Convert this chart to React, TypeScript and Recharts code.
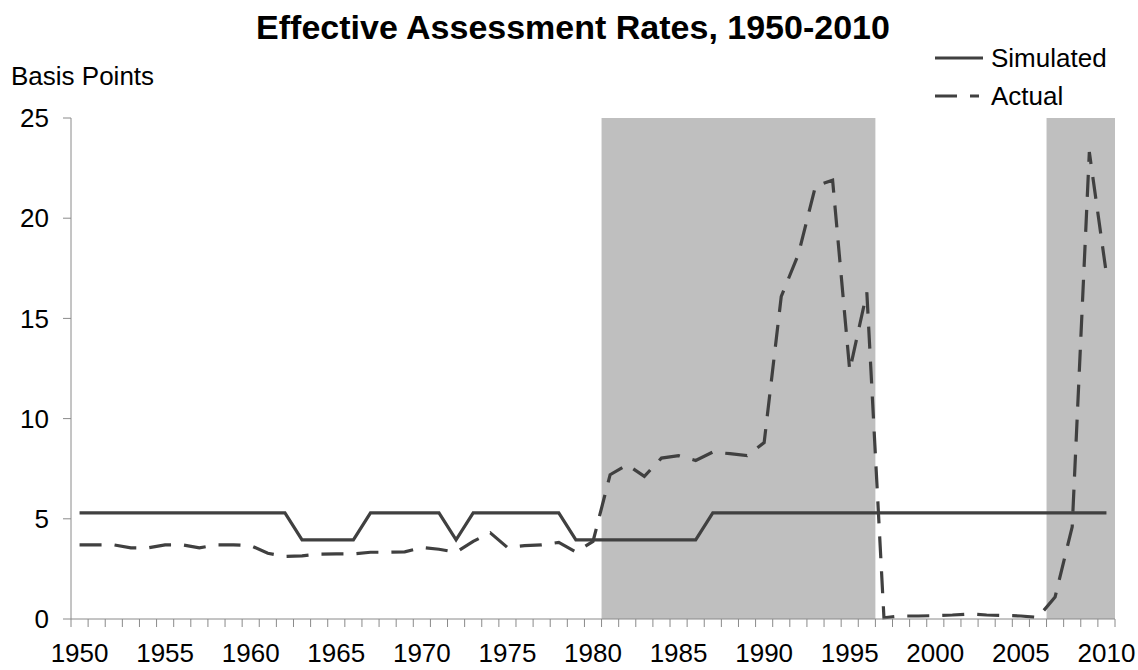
import React from 'react';
import { LineChart, Line, XAxis, YAxis, ReferenceArea, Legend } from 'recharts';

const years = [
  1950, 1951, 1952, 1953, 1954, 1955, 1956, 1957, 1958, 1959,
  1960, 1961, 1962, 1963, 1964, 1965, 1966, 1967, 1968, 1969,
  1970, 1971, 1972, 1973, 1974, 1975, 1976, 1977, 1978, 1979,
  1980, 1981, 1982, 1983, 1984, 1985, 1986, 1987, 1988, 1989,
  1990, 1991, 1992, 1993, 1994, 1995, 1996, 1997, 1998, 1999,
  2000, 2001, 2002, 2003, 2004, 2005, 2006, 2007, 2008, 2009,
  2010,
];

const simulated = [
  5.3, 5.3, 5.3, 5.3, 5.3, 5.3, 5.3, 5.3, 5.3, 5.3,
  5.3, 5.3, 5.3, 3.95, 3.95, 3.95, 3.95, 5.3, 5.3, 5.3,
  5.3, 5.3, 3.95, 5.3, 5.3, 5.3, 5.3, 5.3, 5.3, 3.95,
  3.95, 3.95, 3.95, 3.95, 3.95, 3.95, 3.95, 5.3, 5.3, 5.3,
  5.3, 5.3, 5.3, 5.3, 5.3, 5.3, 5.3, 5.3, 5.3, 5.3,
  5.3, 5.3, 5.3, 5.3, 5.3, 5.3, 5.3, 5.3, 5.3, 5.3,
  5.3,
];

const actual = [
  3.7, 3.7, 3.7, 3.55, 3.55, 3.7, 3.7, 3.55, 3.7, 3.7,
  3.66, 3.28, 3.12, 3.15, 3.24, 3.25, 3.25, 3.33, 3.33, 3.35,
  3.57, 3.48, 3.33, 3.87, 4.3, 3.57, 3.66, 3.7, 3.82, 3.34,
  3.87, 7.2, 7.7, 7.12, 8.03, 8.15, 7.91, 8.33, 8.25, 8.15,
  8.8, 16.1, 18.2, 21.6, 21.9, 12.4, 16.3, 0.06, 0.15, 0.15,
  0.17, 0.2, 0.25, 0.2, 0.18, 0.15, 0.08, 1.1, 4.6, 23.3,
  17.2,
];

const yTicks = [0, 5, 10, 15, 20, 25];
const yearLabels = [1950, 1955, 1960, 1965, 1970, 1975, 1980, 1985, 1990, 1995, 2000, 2005, 2010];

// shaded periods (first and last year fully covered)
const shadedStart = [1981, 2007];
const shadedEnd = [1996, 2010];

const seriesNames = ['Simulated', 'Actual'];
const seriesKeys = ['simulated', 'actual'];
const seriesDash = ['', '22 13'];

const LINE_COLOR = '#404040';
const AXIS_COLOR = '#8a8a8a';
const SHADE_COLOR = '#bfbfbf';
const FONT = '"Liberation Sans", Arial, Helvetica, sans-serif';

const data = years.map((y, i) => ({ year: y, simulated: simulated[i], actual: actual[i] }));
const boundaries = [...years.map((y) => y - 0.5), years[years.length - 1] + 0.5];

const XTick = (props: any) => {
  const { x, y, payload, width } = props;
  const year = payload.value + 0.5;
  if (!yearLabels.includes(year)) return <g />;
  const w = typeof width === 'number' && width > 0 ? width : 1044;
  const half = w / years.length / 2;
  return (
    <text x={x + half} y={y} dy="0.71em" textAnchor="middle" fill="#000" fontSize={26} fontFamily={FONT}>
      {year}
    </text>
  );
};

const renderLegend = () => (
  <div style={{ fontFamily: FONT, fontSize: 26, color: '#000' }}>
    {seriesNames.map((name, i) => (
      <div key={name} style={{ display: 'flex', alignItems: 'center', height: 38 }}>
        <svg width={48} height={38} style={{ display: 'block' }}>
          <line
            x1={0}
            y1={19}
            x2={i === 0 ? 48 : 44}
            y2={19}
            stroke={LINE_COLOR}
            strokeWidth={3}
            strokeDasharray={seriesDash[i] || undefined}
          />
        </svg>
        <span style={{ marginLeft: 8, lineHeight: 1 }}>{name}</span>
      </div>
    ))}
  </div>
);

export default function App() {
  return (
    <div style={{ position: 'absolute', left: 0, top: 0, width: 1138, height: 670, background: '#fff', fontFamily: FONT }}>
      <div
        style={{
          position: 'absolute',
          left: 4,
          top: 10,
          width: 1138,
          textAlign: 'center',
          fontSize: 34,
          lineHeight: 1,
          fontWeight: 'bold',
          color: '#000',
        }}
      >
        Effective Assessment Rates, 1950-2010
      </div>
      <div style={{ position: 'absolute', left: 11, top: 63, fontSize: 26, lineHeight: 1, color: '#000' }}>
        Basis Points
      </div>
      <LineChart width={1138} height={670} data={data} margin={{ top: 118, right: 23, bottom: 0, left: 0 }}>
        {shadedStart.map((s, i) => (
          <ReferenceArea
            key={s}
            x1={s - 0.5}
            x2={shadedEnd[i] + 0.5}
            y1={0}
            y2={25}
            fill={SHADE_COLOR}
            fillOpacity={1}
            stroke="none"
            ifOverflow="visible"
          />
        ))}
        <XAxis
          type="number"
          dataKey="year"
          domain={[years[0] - 0.5, years[years.length - 1] + 0.5]}
          ticks={boundaries}
          interval={0}
          allowDataOverflow
          height={51}
          tickSize={8}
          tickMargin={17}
          stroke={AXIS_COLOR}
          tickLine={{ stroke: AXIS_COLOR }}
          tick={<XTick />}
        />
        <YAxis
          type="number"
          domain={[0, 25]}
          ticks={yTicks}
          interval={0}
          width={71}
          tickSize={8}
          tickMargin={14}
          stroke={AXIS_COLOR}
          tickLine={{ stroke: AXIS_COLOR }}
          tick={{ fill: '#000', fontSize: 26, fontFamily: FONT }}
        />
        {seriesKeys.map((k, i) => (
          <Line
            key={k}
            type="linear"
            dataKey={k}
            name={seriesNames[i]}
            stroke={LINE_COLOR}
            strokeWidth={3.2}
            strokeDasharray={seriesDash[i] || undefined}
            dot={false}
            activeDot={false}
            isAnimationActive={false}
          />
        ))}
        <Legend
          layout="vertical"
          align="center"
          verticalAlign="middle"
          content={renderLegend}
          wrapperStyle={{ position: 'absolute', left: 935, top: 39, width: 200, height: 76 }}
        />
      </LineChart>
    </div>
  );
}
